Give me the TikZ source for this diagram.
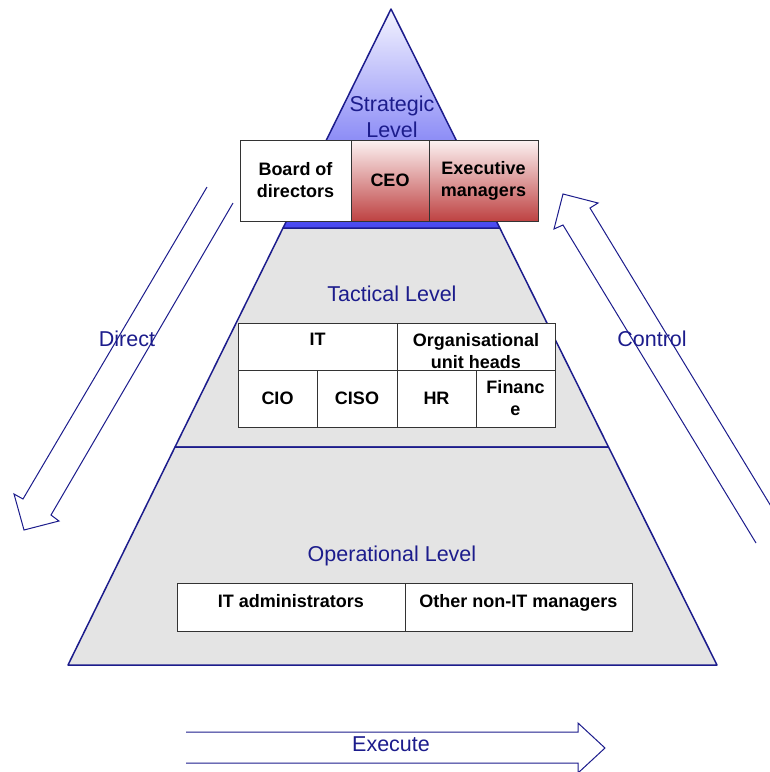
\documentclass[tikz,border=0pt]{standalone}
\usepackage{fontspec}
\setmainfont{Liberation Sans}
\usetikzlibrary{calc}

\definecolor{navy}{HTML}{1C1C8C}
\definecolor{levelfill}{HTML}{E4E4E4}
\definecolor{bluetop}{HTML}{F4F4FF}
\definecolor{bluebot}{HTML}{4848F0}
\definecolor{redtop}{HTML}{FCF2F2}
\definecolor{redbot}{HTML}{BE4242}

\tikzset{
  leveledge/.style={draw=navy, line width=1.5pt, line join=round},
  hollowarrow/.style={draw=navy, line width=1pt, fill=white, line join=miter},
  leveltext/.style={text=navy, font=\fontsize{21.5}{26}\selectfont, align=center, inner sep=0pt},
  cell/.style={draw=black!80, line width=1pt, fill=white, inner sep=0pt},
  redcell/.style={cell, top color=redtop, bottom color=redbot},
  celltext/.style={font=\fontsize{18}{22}\selectfont\bfseries, align=center, inner sep=0pt, text=black},
}

\begin{document}
\begin{tikzpicture}[x=1pt, y=-1pt]
  \useasboundingbox (0,0) rectangle (770,772);
  \clip (0,0) rectangle (770,772);

  % pyramid corners
  \coordinate (apex) at (391,9);
  \coordinate (sl) at (283,228);
  \coordinate (sr) at (499.8,228);
  \coordinate (tl) at (175,447);
  \coordinate (tr) at (608.5,447);
  \coordinate (bl) at (68,665);
  \coordinate (br) at (717,665);

  % levels
  \path[shade, top color=bluetop, bottom color=bluebot] (apex) -- (sr) -- (sl) -- cycle;
  \draw[leveledge] (sl) -- (apex) -- (sr);
  \draw[leveledge, fill=levelfill] (sl) -- (sr) -- (tr) -- (tl) -- cycle;
  \draw[leveledge, fill=levelfill] (tl) -- (tr) -- (br) -- (bl) -- cycle;

  % level labels
  \node[leveltext] (strategic) at (392,117) {Strategic\\Level};
  \node[leveltext] (tactical) at (392,294) {Tactical Level};
  \node[leveltext] (operational) at (392,556) {Operational Level};

  % strategic roles
  \node[cell, minimum width=111pt, minimum height=81pt] (board) at (295.5,180.5) {};
  \node[redcell, minimum width=78pt, minimum height=81pt] (ceo) at (390,180.5) {};
  \node[redcell, minimum width=109pt, minimum height=81pt] (exec) at (483.5,180.5) {};
  \node[celltext] at (board) {Board of\\directors};
  \node[celltext] at (ceo) {CEO};
  \node[celltext] at (exec) {Executive\\managers};

  % tactical roles
  \node[cell, minimum width=159pt, minimum height=47pt] (it) at (317.5,346.5) {};
  \node[cell, minimum width=158pt, minimum height=47pt] (org) at (476,346.5) {};
  \node[cell, minimum width=79pt, minimum height=57pt] (cio) at (277.5,398.5) {};
  \node[cell, minimum width=80pt, minimum height=57pt] (ciso) at (357,398.5) {};
  \node[cell, minimum width=79pt, minimum height=57pt] (hr) at (436.5,398.5) {};
  \node[cell, minimum width=79pt, minimum height=57pt] (fin) at (515.5,398.5) {};
  \node[celltext] at (317.5,339) {IT};
  \node[celltext] at (476,351.5) {Organisational\\unit heads};
  \node[celltext] at (cio) {CIO};
  \node[celltext] at (ciso) {CISO};
  \node[celltext] at (hr) {HR};
  \node[celltext] at (fin) {Financ\\e};

  % operational roles
  \node[cell, minimum width=228pt, minimum height=48pt] (admins) at (291,607) {};
  \node[cell, minimum width=227pt, minimum height=48pt] (others) at (518.5,607) {};
  \node[celltext, anchor=base] at (291,607.5) {IT administrators};
  \node[celltext, anchor=base] at (518.5,607.5) {Other non-IT managers};

  % Direct: hollow arrow running down the left
  \coordinate (d1) at (207,187);
  \coordinate (d2) at (233,203);
  \draw[hollowarrow] (d1) -- (23,499) -- (14,494) -- (24,530) -- (59,521) -- (51,515) -- (d2);
  \node[leveltext] (direct) at (127,339) {Direct};

  % Control: hollow arrow running up the right
  \coordinate (c1) at (756,543);
  \coordinate (c2) at (783,526);
  \draw[hollowarrow] (c1) -- (563,225) -- (554,229) -- (563,194) -- (598,203) -- (590,208) -- (c2);
  \node[leveltext] (control) at (652,339) {Control};

  % Execute: hollow arrow along the bottom
  \coordinate (e1) at (186,732);
  \coordinate (e2) at (186,763);
  \draw[hollowarrow] (e1) -- (578,732) -- (578,723) -- (605,748) -- (578,773) -- (578,763) -- (e2);
  \node[leveltext] (execute) at (391,744) {Execute};
\end{tikzpicture}
\end{document}
